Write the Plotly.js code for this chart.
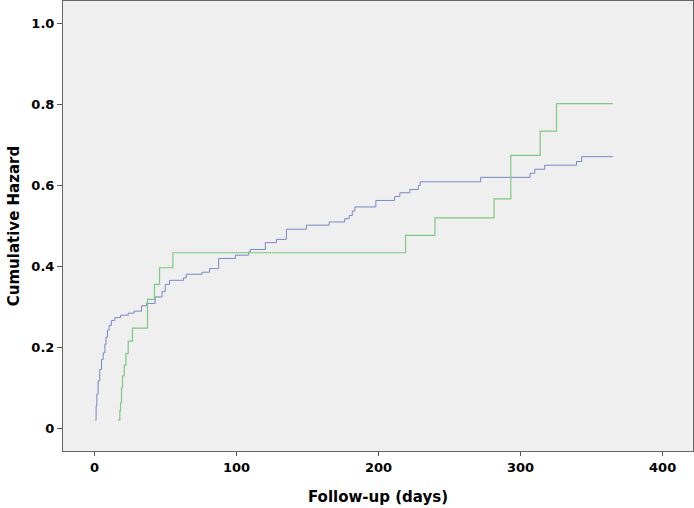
<!DOCTYPE html>
<html>
<head>
<meta charset="utf-8">
<script src="https://cdn.plot.ly/plotly-3.0.1.min.js"></script>
<style>
  body { margin: 0; background: #fff; }
  #chart { width: 694px; height: 508px; }
</style>
</head>
<body>
<div id="chart"></div>
<script>
// step points (day, cumulative hazard)
const blueDays = [0.6, 1.1, 1.6, 2.5, 3.7, 4.9, 6.1, 7.3, 8.0, 9.1, 10.3, 11.9, 14.3, 18.3, 23.7, 27.9, 33.1, 36.6,
  42.7, 47.5, 49.8, 52.8, 62.7, 64.6, 75.7, 81.0, 87.4, 99.2, 108.5, 109.7, 120.3, 128.1, 135.1, 149.2, 165.2,
  176.2, 179.3, 181.5, 183.3, 198.1, 211.3, 215.0, 222.0, 228.0, 229.3, 271.9, 306.7, 310.0, 317.0, 339.4, 343.0, 365];
const blueHaz = [0.021, 0.056, 0.085, 0.118, 0.146, 0.171, 0.187, 0.208, 0.226, 0.243, 0.255, 0.267, 0.274, 0.280, 0.285, 0.290, 0.303, 0.309,
  0.325, 0.338, 0.356, 0.366, 0.372, 0.381, 0.386, 0.395, 0.420, 0.428, 0.436, 0.442, 0.459, 0.467, 0.492, 0.502, 0.510,
  0.518, 0.526, 0.537, 0.547, 0.563, 0.573, 0.582, 0.590, 0.600, 0.609, 0.620, 0.630, 0.640, 0.650, 0.659, 0.671, 0.671];

const greenDays = [16.6, 17.8, 18.3, 19.0, 19.7, 20.9, 22.1, 23.7, 26.7, 37.3, 42.2, 45.8, 55.2,
  219.0, 239.7, 281.3, 293.1, 313.8, 325.3, 365];
const greenHaz = [0.021, 0.044, 0.064, 0.101, 0.130, 0.157, 0.185, 0.216, 0.248, 0.319, 0.356, 0.397, 0.434,
  0.477, 0.520, 0.567, 0.674, 0.734, 0.802, 0.802];

const xTicks = [0, 100, 200, 300, 400];
const yTicks = [0, 0.2, 0.4, 0.6, 0.8, 1.0];
const yTickText = ['0', '0.2', '0.4', '0.6', '0.8', '1.0'];

const tickFont = { family: 'DejaVu Sans', size: 13, color: '#000', weight: 'bold' };
const titleFont = { family: 'DejaVu Sans', size: 15, color: '#000' };

var traces = [
  {
    x: blueDays, y: blueHaz, type: 'scatter', mode: 'lines',
    line: { shape: 'hv', color: '#7c86c2', width: 1 }, hoverinfo: 'skip'
  },
  {
    x: greenDays, y: greenHaz, type: 'scatter', mode: 'lines',
    line: { shape: 'hv', color: '#7dc882', width: 1.2 }, hoverinfo: 'skip'
  }
];

var layout = {
  width: 694, height: 508,
  margin: { l: 63, r: 1, t: 1, b: 57 },
  paper_bgcolor: '#ffffff',
  plot_bgcolor: '#efefef',
  showlegend: false,
  font: { family: 'DejaVu Sans', size: 12, color: '#000' },
  xaxis: {
    range: [-22.2, 421.4],
    tickvals: xTicks, ticktext: xTicks.map(String),
    ticks: 'outside', ticklen: 4, tickcolor: '#555',
    showgrid: false, zeroline: false,
    showline: true, mirror: true, linecolor: '#666', linewidth: 1,
    tickfont: tickFont,
    title: { text: '<b>Follow-up (days)</b>', font: titleFont, standoff: 17 }
  },
  yaxis: {
    range: [-0.055, 1.055],
    tickvals: yTicks, ticktext: yTickText,
    ticks: 'outside', ticklen: 5, tickcolor: '#555',
    showgrid: false, zeroline: false,
    showline: true, mirror: true, linecolor: '#666', linewidth: 1,
    tickfont: tickFont,
    title: { text: '<b>Cumulative Hazard</b>', font: titleFont, standoff: 8 }
  }
};

Plotly.newPlot('chart', traces, layout, { displayModeBar: false, staticPlot: true });
</script>
</body>
</html>
